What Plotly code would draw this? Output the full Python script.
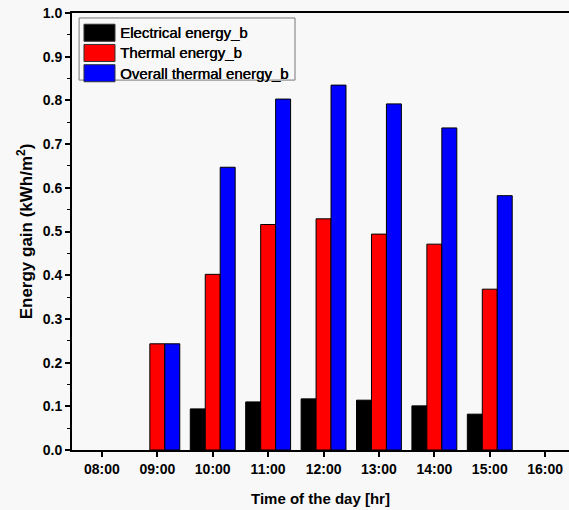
import plotly.graph_objects as go

# Hourly energy gain per unit area (None = no bar drawn)
hours = ["08:00", "09:00", "10:00", "11:00", "12:00", "13:00", "14:00", "15:00", "16:00"]
electrical = [None, None, 0.094, 0.110, 0.117, 0.114, 0.101, 0.082, None]
thermal = [None, 0.243, 0.402, 0.516, 0.529, 0.494, 0.471, 0.368, None]
overall = [None, 0.243, 0.647, 0.803, 0.835, 0.792, 0.737, 0.582, None]

series_names = ["Electrical energy_b", "Thermal energy_b", "Overall thermal energy_b"]
series_values = [electrical, thermal, overall]
series_colors = ["#000000", "#ff0000", "#0000ff"]

FONT = "Liberation Sans, Arial, sans-serif"
BG = "#f8f8f8"

fig = go.Figure()
for name, vals, col in zip(series_names, series_values, series_colors):
    fig.add_trace(go.Bar(
        x=hours, y=vals, name=name,
        marker=dict(color=col, line=dict(color="#000000", width=1)),
        showlegend=False,
    ))

# Legend box drawn with swatches and labels
shapes = [dict(type="rect", xref="paper", yref="paper",
               x0=0.0143, x1=0.4487, y0=0.8465, y1=0.9886,
               line=dict(color="#777777", width=1), fillcolor=BG, layer="above")]
annotations = []
legend_rows = [0.9548, 0.9085, 0.8622]
for (name, col), yc in zip(zip(series_names, series_colors), legend_rows):
    shapes.append(dict(type="rect", xref="paper", yref="paper",
                       x0=0.0241, x1=0.0865, y0=yc - 0.0195, y1=yc + 0.0195,
                       line=dict(color="#333333", width=1), fillcolor=col, layer="above"))
    annotations.append(dict(xref="paper", yref="paper", x=0.0926, y=yc,
                            text=name, showarrow=False, xanchor="left", yanchor="middle",
                            font=dict(family=FONT, size=15, color="#000000",
                                      shadow="0.4px 0 0 #000")))

fig.update_layout(
    width=569, height=510,
    margin=dict(l=72, r=0, t=13, b=60),
    paper_bgcolor=BG, plot_bgcolor=BG,
    barmode="group", bargap=0.19, bargroupgap=0.0,
    font=dict(family=FONT, size=14, color="#000000"),
    shapes=shapes, annotations=annotations,
    xaxis=dict(
        type="category", range=[-0.54, 8.43],
        showline=True, linecolor="#000000", linewidth=2, mirror=True,
        ticks="outside", ticklen=5, tickwidth=1.5, tickcolor="#000000",
        showgrid=False, zeroline=False,
        tickfont=dict(family=FONT, size=14, weight="bold"),
        title=dict(text="Time of the day [hr]", standoff=18,
                   font=dict(family=FONT, size=15, weight="bold")),
    ),
    yaxis=dict(
        range=[0, 1.0], dtick=0.1, tickformat=".1f",
        showline=True, linecolor="#000000", linewidth=2, mirror=False,
        ticks="outside", ticklen=5, tickwidth=1.5, tickcolor="#000000",
        minor=dict(dtick=0.05, ticks="outside", ticklen=3, tickwidth=1.2, tickcolor="#000000"),
        showgrid=False, zeroline=False,
        tickfont=dict(family=FONT, size=14, weight="bold"),
        title=dict(text="Energy gain (kWh/m<sup>2</sup>)", standoff=6,
                   font=dict(family=FONT, size=17, weight="bold")),
    ),
)

fig.write_html("out.html")
